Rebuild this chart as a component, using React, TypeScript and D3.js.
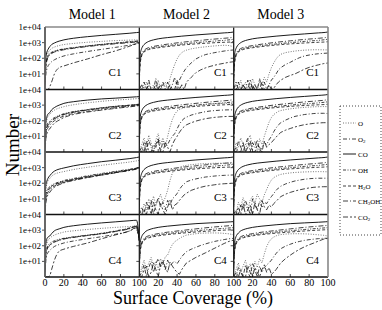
import React from 'react';
import * as d3 from 'd3';

// ---------- grids & labels ----------
const XS = [0, 0.5, 1, 2, 3, 5, 7, 10, 15, 20, 30, 45, 60, 75, 90, 97, 100];
const XL = [0, 2.5, 5, 7.5, 10, 12.5, 15, 17.5, 20, 22.5, 25, 27.5, 30, 32.5, 35, 37.5, 40, 42.5, 45, 47.5, 50, 55, 60, 65, 70, 75, 80, 85, 90, 95, 100];
const models = ['Model 1', 'Model 2', 'Model 3'];
const configs = ['C1', 'C2', 'C3', 'C4'];
const species = ['O', 'O2', 'CO', 'OH', 'H2O', 'CH3OH', 'CO2'];
const xTicks = [0, 20, 40, 60, 80, 100];
const yTicks = [10, 100, 1000, 10000];
const yTickLabels = ['1e+01', '1e+02', '1e+03', '1e+04'];

// ---------- Model 1 (on XS) ----------
const m1c1_CO = [20, 60, 120, 250, 350, 550, 750, 950, 1250, 1500, 1900, 2400, 2900, 3400, 4000, 4400, 4600];
const m1c1_O = [5, 20, 50, 120, 200, 320, 420, 520, 650, 750, 880, 1050, 1200, 1350, 1450, 1500, 1300];
const m1c1_OH = [4, 15, 40, 90, 140, 200, 240, 290, 350, 400, 480, 620, 780, 950, 1150, 1250, 1300];
const m1c1_H2O = [3, 12, 35, 80, 120, 180, 220, 270, 330, 380, 460, 600, 750, 900, 1100, 1200, 1250];
const m1c1_CH3OH = [3, 10, 30, 70, 110, 160, 200, 250, 300, 350, 430, 560, 700, 850, 1000, 1100, 1150];
const m1c1_O2 = [2, 5, 10, 20, 30, 45, 60, 80, 110, 140, 190, 270, 370, 500, 700, 850, 950];
const m1c1_CO2 = [1, 1, 1, 1, 1, 1.5, 3, 10, 25, 32, 50, 90, 170, 300, 600, 850, 1000];

const m1c2_CO = [10, 40, 90, 180, 260, 330, 500, 700, 1000, 1300, 1650, 2100, 2500, 2800, 3200, 3400, 3500];
const m1c2_O = [6, 25, 60, 120, 180, 250, 350, 480, 650, 800, 1050, 1400, 1750, 2100, 2400, 2600, 2700];
const m1c2_OH = [3, 10, 25, 50, 70, 90, 120, 160, 220, 280, 380, 520, 680, 850, 1000, 1100, 1150];
const m1c2_H2O = [2, 8, 20, 40, 55, 75, 100, 140, 200, 260, 360, 500, 650, 820, 980, 1080, 1120];
const m1c2_CH3OH = [2, 7, 18, 35, 50, 65, 90, 130, 190, 250, 350, 480, 630, 800, 950, 1050, 1100];
const m1c2_O2 = [2, 5, 12, 25, 35, 50, 70, 100, 150, 200, 290, 400, 530, 680, 850, 950, 1000];
const m1c2_CO2 = [1, 3, 8, 15, 22, 30, 45, 70, 110, 160, 250, 360, 480, 620, 780, 880, 950];

const m1c3_CO = [10, 40, 80, 140, 200, 300, 420, 600, 800, 950, 1300, 1800, 2400, 3000, 3800, 4400, 4800];
const m1c3_O = [5, 20, 45, 90, 140, 200, 280, 380, 480, 560, 750, 1050, 1400, 1800, 2300, 2700, 2900];
const m1c3_OH = [3, 10, 20, 35, 45, 60, 75, 95, 120, 150, 200, 300, 420, 580, 800, 950, 1100];
const m1c3_H2O = [2, 8, 16, 28, 38, 50, 65, 85, 110, 135, 180, 270, 380, 530, 750, 900, 1050];
const m1c3_CH3OH = [2, 7, 14, 25, 34, 45, 58, 75, 100, 125, 170, 250, 360, 500, 720, 880, 1000];
const m1c3_O2 = [1.5, 5, 10, 18, 25, 35, 48, 65, 90, 115, 160, 240, 340, 480, 680, 830, 950];
const m1c3_CO2 = [1, 3, 6, 12, 18, 26, 38, 55, 80, 105, 150, 230, 330, 470, 660, 800, 900];

const m1c4_CO = [20, 80, 150, 280, 350, 420, 600, 900, 1200, 1500, 1900, 2400, 2900, 3400, 4000, 4300, 250];
const m1c4_O = [8, 30, 70, 150, 220, 300, 380, 480, 620, 750, 900, 1100, 1300, 1500, 1700, 1800, 200];
const m1c4_OH = [4, 15, 35, 70, 100, 140, 170, 210, 260, 300, 370, 480, 630, 900, 1400, 1900, 200];
const m1c4_H2O = [3, 12, 30, 60, 85, 110, 140, 180, 230, 280, 350, 460, 600, 850, 1300, 1800, 200];
const m1c4_CH3OH = [3, 10, 25, 50, 75, 100, 130, 170, 220, 270, 340, 450, 580, 820, 1250, 1750, 200];
const m1c4_O2 = [2, 5, 12, 25, 35, 50, 65, 90, 120, 150, 200, 280, 380, 550, 900, 1500, 200];
const m1c4_CO2 = [1, 1, 1, 1, 1, 1.2, 3, 12, 45, 60, 90, 150, 280, 500, 900, 1400, 200];

// ---------- Models 2 & 3, early species (on XS) ----------
const m23_CO = [15, 80, 180, 350, 500, 750, 950, 1200, 1500, 1750, 2100, 2600, 3100, 3600, 4200, 4500, 4800];
const m23_CH3OH = [5, 30, 70, 150, 220, 320, 400, 480, 570, 650, 800, 1050, 1300, 1600, 1900, 2100, 2300];
const m23_OH = [4, 25, 60, 130, 190, 280, 340, 410, 480, 540, 650, 820, 1000, 1200, 1400, 1550, 1650];
const m23_H2O = [3, 20, 50, 110, 170, 250, 300, 360, 420, 470, 560, 700, 830, 950, 1050, 1100, 1150];
const m23c4_CO = [15, 70, 160, 320, 450, 650, 850, 1050, 1300, 1500, 1800, 2200, 2600, 2900, 3200, 3400, 3500];
const m23c4_CH3OH = [5, 25, 60, 130, 200, 290, 360, 440, 520, 600, 740, 950, 1200, 1500, 1800, 1950, 2000];
const m23c4_OH = [4, 20, 50, 110, 170, 250, 310, 370, 440, 500, 600, 760, 920, 1100, 1300, 1400, 1450];
const m23c4_H2O = [3, 18, 45, 95, 150, 220, 270, 320, 380, 430, 520, 640, 760, 880, 1000, 1050, 1080];

// ---------- Models 2 & 3, late species (on XL) ----------
const m2c1_O = [1, 2, 1, 3, 1, 1, 2, 1, 4, 1, 2, 3, 1, 5, 15, 40, 90, 160, 230, 290, 330, 400, 450, 500, 540, 580, 620, 650, 680, 650, 550];
const m2c1_O2 = [1, 1, 3, 1, 2, 1, 1, 5, 1, 2, 1, 1, 3, 1, 2, 6, 2, 4, 8, 15, 25, 50, 90, 130, 170, 200, 230, 260, 290, 320, 340];
const m2c1_CO2 = [1, 2, 1, 1, 4, 1, 1, 2, 1, 1, 3, 1, 1, 2, 1, 1, 4, 1, 2, 1, 3, 6, 12, 18, 24, 30, 36, 42, 48, 55, 60];

const m2c2_O = [1, 3, 8, 2, 12, 4, 1, 6, 15, 3, 8, 2, 10, 40, 120, 260, 420, 520, 600, 680, 740, 850, 950, 1030, 1100, 1160, 1220, 1270, 1300, 1320, 1300];
const m2c2_O2 = [1, 1, 4, 1, 6, 2, 1, 3, 8, 1, 5, 2, 3, 6, 10, 15, 30, 60, 100, 140, 170, 230, 280, 330, 380, 420, 450, 470, 490, 500, 490];
const m2c2_CO2 = [1, 2, 1, 5, 1, 1, 3, 2, 6, 1, 1, 4, 2, 1, 3, 6, 10, 18, 30, 42, 55, 75, 95, 115, 135, 150, 165, 175, 185, 190, 190];

const m2c3_O = [2, 1, 5, 2, 10, 3, 15, 4, 8, 20, 6, 12, 36, 150, 450, 700, 900, 1050, 1200, 1300, 1400, 1550, 1650, 1750, 1800, 1850, 1900, 1900, 1950, 1900, 1900];
const m2c3_O2 = [1, 3, 1, 6, 2, 8, 1, 4, 12, 3, 6, 2, 8, 4, 10, 14, 22, 40, 65, 90, 125, 160, 190, 220, 250, 270, 290, 310, 320, 330, 340];
const m2c3_CO2 = [1, 1, 2, 1, 4, 1, 6, 2, 1, 5, 2, 1, 3, 8, 2, 4, 5, 8, 12, 18, 23, 35, 45, 55, 65, 72, 80, 88, 93, 97, 100];

const m2c4_O = [1, 4, 12, 3, 8, 18, 5, 10, 3, 15, 6, 20, 25, 60, 120, 180, 230, 290, 360, 420, 480, 540, 590, 630, 650, 660, 660, 650, 620, 580, 500];
const m2c4_O2 = [1, 2, 6, 1, 4, 10, 2, 7, 15, 4, 9, 3, 12, 5, 8, 10, 7, 12, 20, 30, 42, 60, 80, 105, 130, 160, 190, 220, 250, 280, 300];
const m2c4_CO2 = [1, 1, 3, 5, 1, 2, 8, 3, 1, 6, 12, 4, 2, 9, 5, 3, 2, 1.5, 3, 5, 8, 12, 18, 25, 35, 50, 70, 100, 140, 190, 230];

const m3c1_O = [1, 2, 1, 4, 1, 3, 1, 1, 5, 2, 1, 3, 2, 6, 3, 10, 25, 50, 90, 140, 180, 230, 260, 290, 310, 330, 340, 350, 350, 345, 340];
const m3c1_O2 = [1, 1, 3, 1, 2, 1, 4, 1, 2, 1, 1, 5, 1, 3, 1, 2, 4, 6, 10, 18, 25, 40, 55, 80, 110, 140, 160, 180, 195, 205, 215];
const m3c1_CO2 = [1, 3, 1, 1, 2, 1, 1, 4, 1, 2, 1, 1, 3, 1, 1, 2, 1, 1.2, 2, 3, 4, 6, 8, 10, 14, 20, 26, 32, 38, 45, 50];

const m3c2_O = [1, 4, 2, 8, 3, 1, 6, 12, 2, 5, 1, 7, 3, 10, 30, 80, 160, 250, 320, 400, 450, 520, 580, 630, 680, 720, 750, 780, 800, 810, 800];
const m3c2_O2 = [1, 1, 5, 2, 1, 3, 8, 1, 4, 2, 6, 1, 2, 4, 3, 6, 10, 20, 35, 55, 75, 110, 150, 190, 220, 250, 270, 290, 300, 300, 290];
const m3c2_CO2 = [1, 2, 1, 1, 4, 1, 2, 5, 1, 1, 3, 2, 1, 5, 2, 3, 4, 6, 9, 13, 18, 25, 32, 40, 48, 56, 62, 68, 72, 75, 75];

const m3c3_O = [2, 1, 6, 3, 12, 4, 2, 8, 15, 5, 20, 10, 6, 18, 40, 90, 160, 230, 280, 330, 370, 420, 460, 490, 510, 530, 540, 550, 555, 550, 540];
const m3c3_O2 = [1, 2, 1, 4, 2, 8, 3, 1, 10, 4, 2, 7, 3, 6, 5, 9, 14, 22, 35, 50, 65, 90, 115, 140, 160, 180, 195, 205, 210, 210, 210];
const m3c3_CO2 = [1, 1, 3, 1, 5, 1, 2, 4, 1, 6, 2, 1, 8, 3, 2, 4, 3, 5, 7, 10, 14, 20, 26, 32, 38, 44, 50, 55, 58, 60, 60];

const m3c4_O = [1, 3, 8, 2, 5, 12, 3, 7, 1, 10, 4, 15, 8, 30, 90, 180, 280, 360, 430, 480, 520, 560, 580, 590, 590, 580, 560, 530, 500, 470, 420];
const m3c4_O2 = [1, 1, 4, 2, 1, 6, 2, 1, 8, 3, 1, 5, 2, 4, 6, 8, 12, 20, 32, 48, 65, 95, 125, 160, 190, 220, 245, 265, 285, 300, 300];
const m3c4_CO2 = [1, 2, 1, 3, 1, 1, 5, 2, 1, 4, 2, 1, 3, 6, 2, 4, 1.5, 2, 3, 5, 8, 15, 25, 40, 60, 85, 115, 150, 200, 260, 300];

// ---------- assembly ----------
type Series = { sp: string; xs: number[]; ys: number[]; rough: boolean };
const S = (sp: string, ys: number[]): Series => ({ sp, xs: XS, ys, rough: false });
const Lt = (sp: string, ys: number[]): Series => ({ sp, xs: XL, ys, rough: true });

const model1Panels: Series[][] = [
  [S('O', m1c1_O), S('O2', m1c1_O2), S('CO', m1c1_CO), S('OH', m1c1_OH), S('H2O', m1c1_H2O), S('CH3OH', m1c1_CH3OH), S('CO2', m1c1_CO2)],
  [S('O', m1c2_O), S('O2', m1c2_O2), S('CO', m1c2_CO), S('OH', m1c2_OH), S('H2O', m1c2_H2O), S('CH3OH', m1c2_CH3OH), S('CO2', m1c2_CO2)],
  [S('O', m1c3_O), S('O2', m1c3_O2), S('CO', m1c3_CO), S('OH', m1c3_OH), S('H2O', m1c3_H2O), S('CH3OH', m1c3_CH3OH), S('CO2', m1c3_CO2)],
  [S('O', m1c4_O), S('O2', m1c4_O2), S('CO', m1c4_CO), S('OH', m1c4_OH), S('H2O', m1c4_H2O), S('CH3OH', m1c4_CH3OH), S('CO2', m1c4_CO2)],
];
const early = (c4: boolean): Series[] => c4
  ? [S('CO', m23c4_CO), S('CH3OH', m23c4_CH3OH), S('OH', m23c4_OH), S('H2O', m23c4_H2O)]
  : [S('CO', m23_CO), S('CH3OH', m23_CH3OH), S('OH', m23_OH), S('H2O', m23_H2O)];
const model2Panels: Series[][] = [
  [...early(false), Lt('O', m2c1_O), Lt('O2', m2c1_O2), Lt('CO2', m2c1_CO2)],
  [...early(false), Lt('O', m2c2_O), Lt('O2', m2c2_O2), Lt('CO2', m2c2_CO2)],
  [...early(false), Lt('O', m2c3_O), Lt('O2', m2c3_O2), Lt('CO2', m2c3_CO2)],
  [...early(true), Lt('O', m2c4_O), Lt('O2', m2c4_O2), Lt('CO2', m2c4_CO2)],
];
const model3Panels: Series[][] = [
  [...early(false), Lt('O', m3c1_O), Lt('O2', m3c1_O2), Lt('CO2', m3c1_CO2)],
  [...early(false), Lt('O', m3c2_O), Lt('O2', m3c2_O2), Lt('CO2', m3c2_CO2)],
  [...early(false), Lt('O', m3c3_O), Lt('O2', m3c3_O2), Lt('CO2', m3c3_CO2)],
  [...early(true), Lt('O', m3c4_O), Lt('O2', m3c4_O2), Lt('CO2', m3c4_CO2)],
];
const allPanels = [model1Panels, model2Panels, model3Panels];

const lineStyle: Record<string, { dash: string; color: string; w: number }> = {
  O: { dash: '1,1.5', color: '#666', w: 0.9 },
  O2: { dash: '4,2,1,2', color: '#111', w: 0.8 },
  CO: { dash: '', color: '#000', w: 0.9 },
  OH: { dash: '3,1.5,1,1.5,1,1.5', color: '#111', w: 0.8 },
  H2O: { dash: '3,2', color: '#111', w: 0.8 },
  CH3OH: { dash: '5,2,1,2', color: '#111', w: 0.8 },
  CO2: { dash: '5,2,2,2', color: '#111', w: 0.8 },
};
const legendLabels: Record<string, [string, string, string]> = {
  O: ['O', '', ''],
  O2: ['O', '2', ''],
  CO: ['CO', '', ''],
  OH: ['OH', '', ''],
  H2O: ['H', '2', 'O'],
  CH3OH: ['CH', '3', 'OH'],
  CO2: ['CO', '2', ''],
};

// ---------- layout ----------
const L = 45, R = 328, T = 27, B = 277;
const colW = (R - L) / 3;
const rowH = (B - T) / 4;
const labelX = [70, 81, 79];
const FONT = "'Liberation Serif', 'DejaVu Serif', serif";

export default function App() {
  const x = d3.scaleLinear().domain([0, 100]).range([0, colW]);
  const y = d3.scaleLog().domain([1, 10000]).range([rowH, 0]).clamp(true);
  const smooth = d3.line<[number, number]>().x(d => x(d[0])).y(d => y(Math.max(1, d[1]))).curve(d3.curveMonotoneX);
  const rough = d3.line<[number, number]>().x(d => x(d[0])).y(d => y(Math.max(1, d[1])));

  const legendY = [123, 139, 154, 170, 186, 201, 217];

  return (
    <svg width={382} height={310} style={{ position: 'absolute', left: 0, top: 0, background: '#fff' }} fontFamily={FONT}>
      <defs>
        <clipPath id="pclip"><rect x={0} y={-1} width={colW} height={rowH + 1} /></clipPath>
      </defs>
      {models.map((m, ci) => (
        <text key={m} x={L + colW * ci + colW / 2} y={18.5} textAnchor="middle" fontSize={14}>{m}</text>
      ))}
      {allPanels.map((col, ci) => col.map((series, ri) => {
        const px = L + ci * colW, py = T + ri * rowH;
        return (
          <g key={`${ci}-${ri}`} transform={`translate(${px},${py})`}>
            <g clipPath="url(#pclip)">
              {series.map((s, k) => {
                const pts = s.xs.map((xv, i) => [xv, s.ys[i]] as [number, number]);
                const st = lineStyle[s.sp];
                return <path key={k} d={(s.rough ? rough : smooth)(pts) || ''} fill="none" stroke={st.color} strokeWidth={st.w} strokeDasharray={st.dash || undefined} />;
              })}
            </g>
            {xTicks.slice(1, -1).map(t => (
              <line key={t} x1={x(t)} x2={x(t)} y1={rowH} y2={rowH - 3} stroke="#222" strokeWidth={0.8} />
            ))}
            {yTicks.slice(0, 3).map(t => (
              <line key={t} x1={0} x2={-3} y1={y(t)} y2={y(t)} stroke="#222" strokeWidth={0.8} />
            ))}
            <line x1={0} x2={colW} y1={rowH} y2={rowH} stroke="#111" strokeWidth={1.4} />
            <line x1={0} x2={0} y1={0} y2={rowH} stroke="#222" strokeWidth={1.3} />
            <text x={labelX[ci]} y={49} textAnchor="middle" fontSize={11}>{configs[ri]}</text>
          </g>
        );
      }))}
      <line x1={L} x2={R} y1={T} y2={T} stroke="#888" strokeWidth={1.6} />
      <line x1={R} x2={R} y1={T} y2={B} stroke="#888" strokeWidth={1.6} />
      <line x1={L} x2={L} y1={T} y2={B} stroke="#666" strokeWidth={1.6} />
      {configs.map((c, ri) => yTicks.map((t, k) => (
        <text key={`${c}-${t}`} x={41} y={T + ri * rowH + y(t) + 3} textAnchor="end" fontSize={9}>{yTickLabels[k]}</text>
      )))}
      {models.map((m, ci) => xTicks.filter(t => !(ci > 0 && t === 0)).map(t => (
        <text key={`${m}-${t}`} x={L + ci * colW + x(t)} y={286} textAnchor="middle" fontSize={10}>{t}</text>
      )))}
      <text transform="translate(19,145) rotate(-90)" textAnchor="middle" fontSize={19}>Number</text>
      <text x={193} y={304} textAnchor="middle" fontSize={18}>Surface Coverage (%)</text>
      <rect x={340} y={106} width={41} height={129} fill="none" stroke="#444" strokeWidth={1} strokeDasharray="1,2" />
      {species.map((sp, i) => {
        const st = lineStyle[sp];
        const [a, sub, b] = legendLabels[sp];
        return (
          <g key={sp}>
            <line x1={343} x2={356} y1={legendY[i]} y2={legendY[i]} stroke={st.color} strokeWidth={st.w} strokeDasharray={st.dash || undefined} />
            <text x={358} y={legendY[i] + 2.5} fontSize={7}>
              {a}
              {sub && <tspan fontSize={5} dy={1.5}>{sub}</tspan>}
              {b && <tspan fontSize={7} dy={-1.5}>{b}</tspan>}
            </text>
          </g>
        );
      })}
    </svg>
  );
}
